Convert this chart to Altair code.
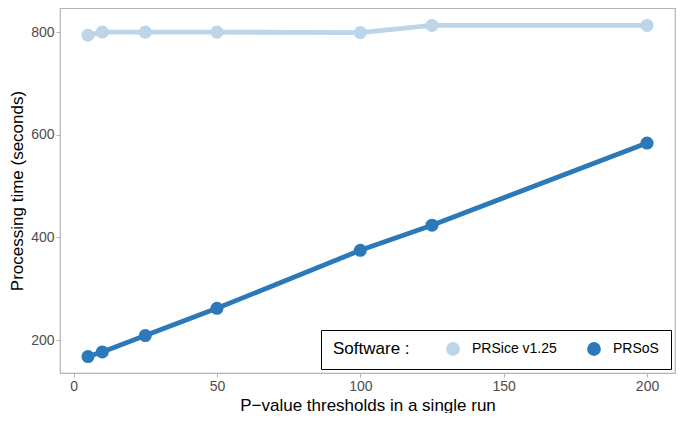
import altair as alt
import pandas as pd

thresholds = [5, 10, 25, 50, 100, 125, 200]
prsice = [794, 800, 800, 800, 799, 813, 813]
prsos = [168, 177, 209, 262, 375, 424, 584]
software = ["PRSice v1.25", "PRSoS"]
colors = ["#bcd5e8", "#2b79b8"]

rows = []
for x, v in zip(thresholds, prsice):
    rows.append({"threshold": x, "time": v, "Software": software[0]})
for x, v in zip(thresholds, prsos):
    rows.append({"threshold": x, "time": v, "Software": software[1]})
df = pd.DataFrame(rows)

font = "Liberation Sans"

x = alt.X("threshold:Q", title="P−value thresholds in a single run",
          scale=alt.Scale(domain=[-4.75, 209.75], nice=False, zero=False),
          axis=alt.Axis(values=[0, 50, 100, 150, 200]))
y = alt.Y("time:Q", title="Processing time (seconds)",
          scale=alt.Scale(domain=[136, 847], nice=False, zero=False),
          axis=alt.Axis(values=[200, 400, 600, 800]))
color = alt.Color("Software:N", scale=alt.Scale(domain=software, range=colors),
                  legend=alt.Legend(title="Software :", orient="bottom-right",
                                    direction="horizontal", titleOrient="left",
                                    symbolType="circle", symbolSize=190,
                                    symbolStrokeWidth=0, symbolOpacity=1,
                                    labelFontSize=14, titleFontSize=17,
                                    titleFontWeight="normal", titleColor="black",
                                    labelColor="black", columnPadding=30,
                                    titlePadding=36, labelOffset=12,
                                    strokeColor="black", fillColor="white",
                                    padding=12, offset=4, titleBaseline="middle"))

base = alt.Chart(df)
lines = base.mark_line(strokeWidth=4.8).encode(x=x, y=y, color=color)
points = base.mark_circle(size=170, opacity=1).encode(x=x, y=y, color=color)

chart = (lines + points).properties(
    width=669, height=405,
    autosize=alt.AutoSizeParams(type="fit", contains="padding"),
    padding={"left": 0, "top": 0, "right": 2, "bottom": 0},
).configure_view(stroke="#b3b3b3", strokeWidth=1.2).configure_axis(
    grid=False, domain=False, tickColor="#b3b3b3", tickSize=4,
    labelFont=font, titleFont=font, labelFontSize=14, labelColor="#4d4d4d",
    titleFontSize=17, titleFontWeight="normal", titleColor="black",
    labelPadding=2,
).configure_axisY(titlePadding=4).configure_axisX(titlePadding=4).configure_legend(
    labelFont=font, titleFont=font
)

chart.save("out.html", embed_options={"renderer": "svg", "actions": False})
